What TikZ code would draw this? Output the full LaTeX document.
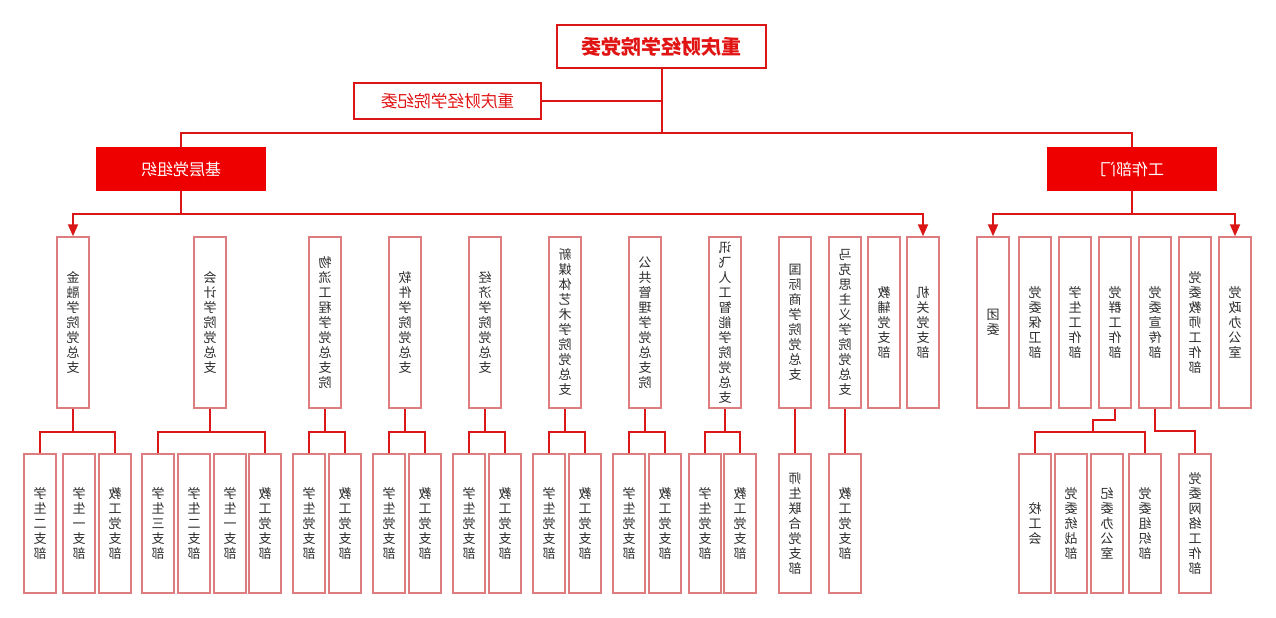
\documentclass[tikz,border=0pt]{standalone}
\usepackage{fontspec}
\setmainfont{Noto Sans CJK SC}
\XeTeXlinebreaklocale "zh"
\XeTeXlinebreakskip=0pt plus 1pt
\usetikzlibrary{arrows.meta}
\definecolor{linkred}{RGB}{218,22,22}
\definecolor{titlered}{RGB}{225,20,20}
\definecolor{fillred}{RGB}{238,0,0}
\definecolor{boxpink}{RGB}{222,125,128}
\definecolor{textgray}{RGB}{45,45,45}

\begin{document}
\begin{tikzpicture}[x=0.75pt,y=-0.75pt,
    link/.style={draw=linkred,line width=1.5pt},
    arr/.style={link,-{Triangle[width=7.5pt,length=9pt]}},
    vbox/.style={draw=boxpink,line width=1.1pt,xscale=-1,minimum width=24pt,inner sep=0pt,
        text width=10pt,align=center,text=textgray,font=\fontsize{9.75}{11.25}\selectfont},
    tall/.style={vbox,minimum height=128.25pt},
    short/.style={vbox,minimum height=104.25pt},
    topbox/.style={draw=linkred,line width=1.5pt,xscale=-1,minimum width=156.75pt,
        minimum height=32.25pt,text=titlered,font=\fontsize{15}{18}\selectfont\bfseries},
    jwbox/.style={draw=linkred,line width=1.3pt,xscale=-1,minimum width=140.25pt,
        minimum height=27pt,text=titlered,font=\fontsize{12.5}{15}\selectfont},
    fillbox/.style={fill=fillred,xscale=-1,minimum width=127.5pt,minimum height=33pt,
        text=white,font=\fontsize{12}{14}\selectfont}]
  \useasboundingbox (0,0) rectangle (1276,617);

  % top
  \node[topbox] (dw) at (661.5,46.5) {重庆财经学院党委};
  \node[jwbox] (jw) at (447.5,101) {重庆财经学院纪委};
  \node[fillbox] (jc) at (181,169) {基层党组织};
  \node[fillbox] (gz) at (1132,169) {工作部门};

  % second row
  \foreach \name/\x/\txt in {j1/73/金融学院党总支, j2/210/会计学院党总支,
      j3/325/物流工程学党总支院, j4/405/软件学院党总支, j5/485/经济学院党总支,
      j6/565/新媒体艺术学院党总支, j7/645/公共管理学党总支院,
      j8/725/讯飞人工智能学院党总支, j9/795/国际商学院党总支,
      j10/845/马克思主义学院党总支, j11/884/教辅党支部, j12/923/机关党支部,
      g1/993/团委, g2/1035/党委保卫部, g3/1075/学生工作部, g4/1115/党群工作部,
      g5/1155/党委宣传部, g6/1195/党委教师工作部, g7/1235/党政办公室}
    \node[tall] (\name) at (\x,322.5) {\txt};

  % third row
  \foreach \name/\x/\txt in {j1a/40/学生二支部, j1b/79/学生一支部, j1c/115/教工党支部,
      j2a/158/学生三支部, j2b/194/学生二支部, j2c/230/学生一支部, j2d/265/教工党支部,
      j3a/309/学生党支部, j3b/345/教工党支部, j4a/389/学生党支部, j4b/425/教工党支部,
      j5a/469/学生党支部, j5b/505/教工党支部, j6a/549/学生党支部, j6b/585/教工党支部,
      j7a/629/学生党支部, j7b/665/教工党支部, j8a/705/学生党支部, j8b/740/教工党支部,
      j9a/795/师生联合党支部, j10a/845/教工党支部,
      g4a/1035/校工会, g4b/1071/党委统战部, g4c/1107/纪委办公室, g4d/1145/党委组织部,
      g5a/1195/党委网络工作部}
    \node[short] (\name) at (\x,523.5) {\txt};

  % connectors from the top
  \coordinate (trunk) at (661.5,133);
  \draw[link] (dw) -- (trunk);
  \draw[link] (jw) -- (jw -| dw);
  \draw[link] (jc) |- (trunk) -| (gz);

  \coordinate (jbus) at (181,214);
  \draw[link] (jc) -- (jbus);
  \draw[arr] (jbus) -| (j1);
  \draw[arr] (jbus) -| (j12);
  \coordinate (gbus) at (1132,214);
  \draw[link] (gz) -- (gbus);
  \draw[arr] (gbus) -| (g1);
  \draw[arr] (gbus) -| (g7);

  % branches to the third row
  \foreach \p/\a/\b in {j1/j1a/j1c, j2/j2a/j2d, j3/j3a/j3b, j4/j4a/j4b,
      j5/j5a/j5b, j6/j6a/j6b, j7/j7a/j7b, j8/j8a/j8b} {
    \path (\p.south) ++(0,23) coordinate (\p bus);
    \draw[link] (\p.south) -- (\p bus);
    \draw[link] (\a) |- (\p bus) -| (\b);
  }
  \draw[link] (j9) -- (j9a);
  \draw[link] (j10) -- (j10a);

  \coordinate (qbend) at (1093,420);
  \coordinate (qbus) at (1093,432);
  \draw[link] (g4) |- (qbend) -- (qbus);
  \draw[link] (g4a) |- (qbus) -| (g4d);
  \coordinate (xbus) at (1155,431);
  \draw[link] (g5) -- (xbus) -| (g5a);
\end{tikzpicture}
\end{document}
